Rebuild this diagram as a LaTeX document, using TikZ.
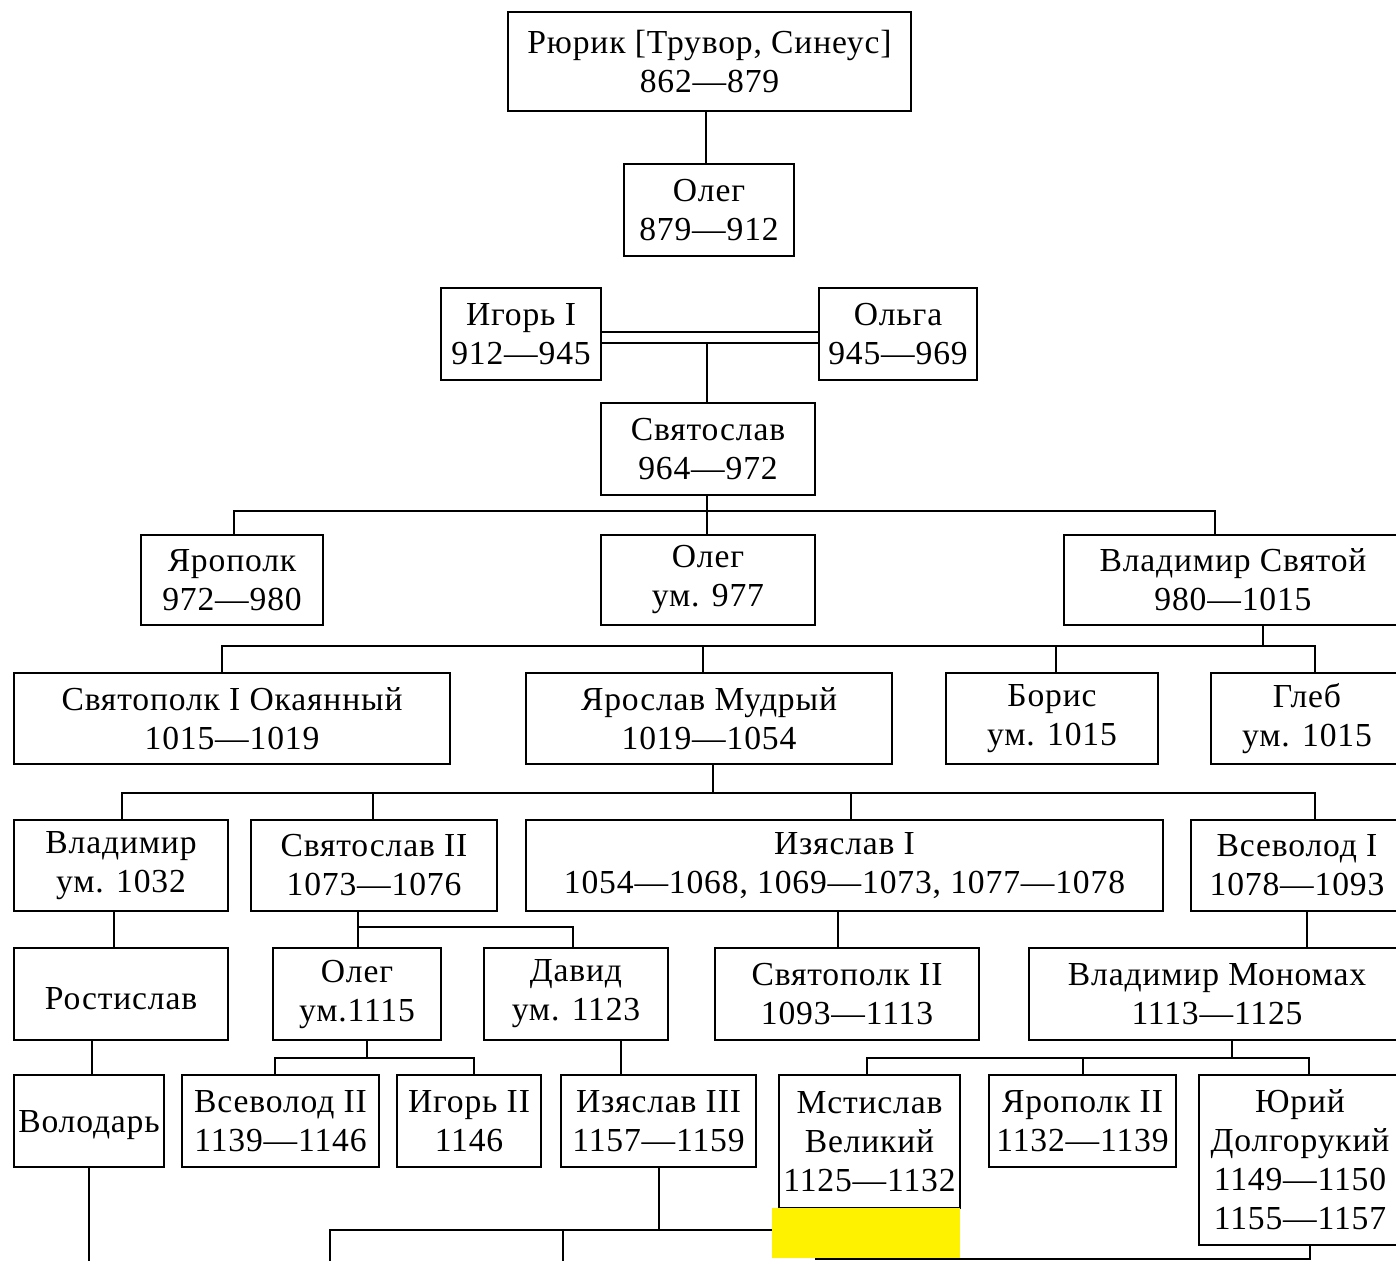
\documentclass[tikz,border=0pt]{standalone}
\usepackage{fontspec}
\setmainfont[LetterSpace=2.5]{Liberation Serif}
\begin{document}
\begin{tikzpicture}[x=0.5pt,y=-0.5pt,
  box/.style={draw, line width=1pt, inner sep=0pt, align=center, fill=white,
    font=\fontsize{16.8}{19.5}\selectfont,
    execute at begin node={\rule{0pt}{15.5pt}}},
  conn/.style={line width=1pt}]
\useasboundingbox (0,0) rectangle (1396,1261);
\fill[white] (0,0) rectangle (1396,1261);
\clip (0,0) rectangle (1396,1261);
% row 0
\node[box, minimum width=201.5pt, minimum height=49.5pt] (rurik) at (709.5,61.5) {Рюрик [Трувор, Синеус]\\862—879};
\node[box, minimum width=85pt, minimum height=46pt] (oleg1) at (709,210) {Олег\\879—912};
\node[box, minimum width=80pt, minimum height=46pt] (igor) at (521,334) {Игорь I\\912—945};
\node[box, minimum width=79pt, minimum height=46pt] (olga) at (898,334) {Ольга\\945—969};
\node[box, minimum width=107pt, minimum height=46pt] (svyat) at (708,449) {Святослав\\964—972};
% row sons of Svyatoslav
\node[box, minimum width=91pt, minimum height=45pt] (yaropolk) at (232,580) {Ярополк\\972—980};
\node[box, minimum width=107pt, minimum height=45pt] (oleg2) at (708,580) {Олег\\ум. 977};
\node[box, minimum width=169pt, minimum height=45pt] (vlad) at (1233,580) {Владимир Святой\\980—1015};
% sons of Vladimir
\node[box, minimum width=218pt, minimum height=45.5pt] (svyatopolk1) at (232,718.5) {Святополк I Окаянный\\1015—1019};
\node[box, minimum width=183pt, minimum height=45.5pt] (yaroslav) at (709,718.5) {Ярослав Мудрый\\1019—1054};
\node[box, minimum width=106pt, minimum height=45.5pt] (boris) at (1052,718.5) {Борис\\ум. 1015};
\node[box, minimum width=96pt, minimum height=45.5pt] (gleb) at (1307,718.5) {Глеб\\ум. 1015};
% sons of Yaroslav
\node[box, minimum width=107pt, minimum height=45.5pt] (vladimir2) at (121,865.5) {Владимир\\ум. 1032};
\node[box, minimum width=123pt, minimum height=45.5pt] (svyat2) at (374,865.5) {Святослав II\\1073—1076};
\node[box, minimum width=318.5pt, minimum height=45.5pt] (izyaslav) at (844.5,865.5) {Изяслав I\\1054—1068, 1069—1073, 1077—1078};
\node[box, minimum width=106pt, minimum height=45.5pt] (vsevolod1) at (1297,865.5) {Всеволод I\\1078—1093};
% next row
\node[box, minimum width=107pt, minimum height=46pt] (rostislav) at (121,994) {Ростислав};
\node[box, minimum width=84pt, minimum height=46pt] (oleg3) at (357,994) {Олег\\ум.1115};
\node[box, minimum width=92pt, minimum height=46pt] (david) at (576,994) {Давид\\ум. 1123};
\node[box, minimum width=132pt, minimum height=46pt] (svyatopolk2) at (847,994) {Святополк II\\1093—1113};
\node[box, minimum width=188pt, minimum height=46pt] (monomakh) at (1217,994) {Владимир Мономах\\1113—1125};
% last row
\node[box, minimum width=75pt, minimum height=46pt] (volodar) at (89,1121) {Володарь};
\node[box, minimum width=98.5pt, minimum height=46pt] (vsevolod2) at (280.5,1121) {Всеволод II\\1139—1146};
\node[box, minimum width=72pt, minimum height=46pt] (igor2) at (469,1121) {Игорь II\\1146};
\node[box, minimum width=97.5pt, minimum height=46pt] (izyaslav3) at (658.5,1121) {Изяслав III\\1157—1159};
\node[box, minimum width=90.5pt, minimum height=66.5pt] (mstislav) at (869.5,1141.5) {Мстислав\\Великий\\1125—1132};
\node[box, minimum width=93.5pt, minimum height=46pt] (yaropolk2) at (1082.5,1121) {Ярополк II\\1132—1139};
\node[box, minimum width=101pt, minimum height=85pt] (yuri) at (1300,1160) {Юрий\\Долгорукий\\1149—1150\\1155—1157};
% junction coordinates
\coordinate (a0) at (706,111);
\coordinate (m0) at (707,343);
\coordinate (t1) at (234,511); \coordinate (t2) at (1215,511); \coordinate (t0) at (707,511);
\coordinate (u0) at (1263,646); \coordinate (u1) at (222,646); \coordinate (u2) at (703,646);
\coordinate (u3) at (1056,646); \coordinate (u4) at (1315,646);
\coordinate (v0) at (713,793); \coordinate (v1) at (122,793); \coordinate (v2) at (373,793);
\coordinate (v3) at (851,793); \coordinate (v4) at (1315,793);
\coordinate (w1) at (114,911); \coordinate (w2) at (358,927); \coordinate (w3) at (573,927);
\coordinate (w4) at (838,911); \coordinate (w5) at (1307,911);
\coordinate (x1) at (92,1040); \coordinate (x2) at (367,1058); \coordinate (x3) at (275,1058);
\coordinate (x4) at (474,1058); \coordinate (x5) at (621,1040);
\coordinate (y0) at (1232,1058); \coordinate (y1) at (867,1058); \coordinate (y2) at (1083,1058); \coordinate (y3) at (1309,1058);
\coordinate (z0) at (89,1261);
\coordinate (z1) at (659,1230); \coordinate (z2) at (330,1230); \coordinate (z3) at (563,1230); \coordinate (z4) at (772,1230);
\coordinate (z5) at (330,1261); \coordinate (z6) at (563,1261);
\coordinate (q0) at (1310,1259); \coordinate (q1) at (815,1259);
% connectors
\draw[conn] (rurik.south -| a0) -- (oleg1.north -| a0);
\draw[conn] (igor.east |- 0,332) -- (olga.west |- 0,332);
\draw[conn] (igor.east |- m0) -- (olga.west |- m0);
\draw[conn] (m0) -- (svyat.north -| m0);
\draw[conn] (svyat.south -| t0) -- (oleg2.north -| t0);
\draw[conn] (yaropolk.north -| t1) -- (t1) -- (t2) -- (vlad.north -| t2);
\draw[conn] (vlad.south -| u0) -- (u0);
\draw[conn] (svyatopolk1.north -| u1) -- (u1) -- (u4) -- (gleb.north -| u4);
\draw[conn] (u2) -- (yaroslav.north -| u2);
\draw[conn] (u3) -- (boris.north -| u3);
\draw[conn] (yaroslav.south -| v0) -- (v0);
\draw[conn] (vladimir2.north -| v1) -- (v1) -- (v4) -- (vsevolod1.north -| v4);
\draw[conn] (v2) -- (svyat2.north -| v2);
\draw[conn] (v3) -- (izyaslav.north -| v3);
\draw[conn] (vladimir2.south -| w1) -- (rostislav.north -| w1);
\draw[conn] (svyat2.south -| w2) -- (oleg3.north -| w2);
\draw[conn] (w2) -- (w3) -- (david.north -| w3);
\draw[conn] (izyaslav.south -| w4) -- (svyatopolk2.north -| w4);
\draw[conn] (vsevolod1.south -| w5) -- (monomakh.north -| w5);
\draw[conn] (rostislav.south -| x1) -- (volodar.north -| x1);
\draw[conn] (oleg3.south -| x2) -- (x2);
\draw[conn] (vsevolod2.north -| x3) -- (x3) -- (x4) -- (igor2.north -| x4);
\draw[conn] (david.south -| x5) -- (izyaslav3.north -| x5);
\draw[conn] (monomakh.south -| y0) -- (y0);
\draw[conn] (mstislav.north -| y1) -- (y1) -- (y3) -- (yuri.north -| y3);
\draw[conn] (y2) -- (yaropolk2.north -| y2);
\draw[conn] (volodar.south -| z0) -- (z0);
\draw[conn] (izyaslav3.south -| z1) -- (z1);
\draw[conn] (z5) -- (z2) -- (z4);
\draw[conn] (z3) -- (z6);
\draw[conn] (yuri.south -| q0) -- (q0) -- (q1);
% yellow patch
\fill[yellow] (772,1208) rectangle (960,1258);
\end{tikzpicture}
\end{document}
